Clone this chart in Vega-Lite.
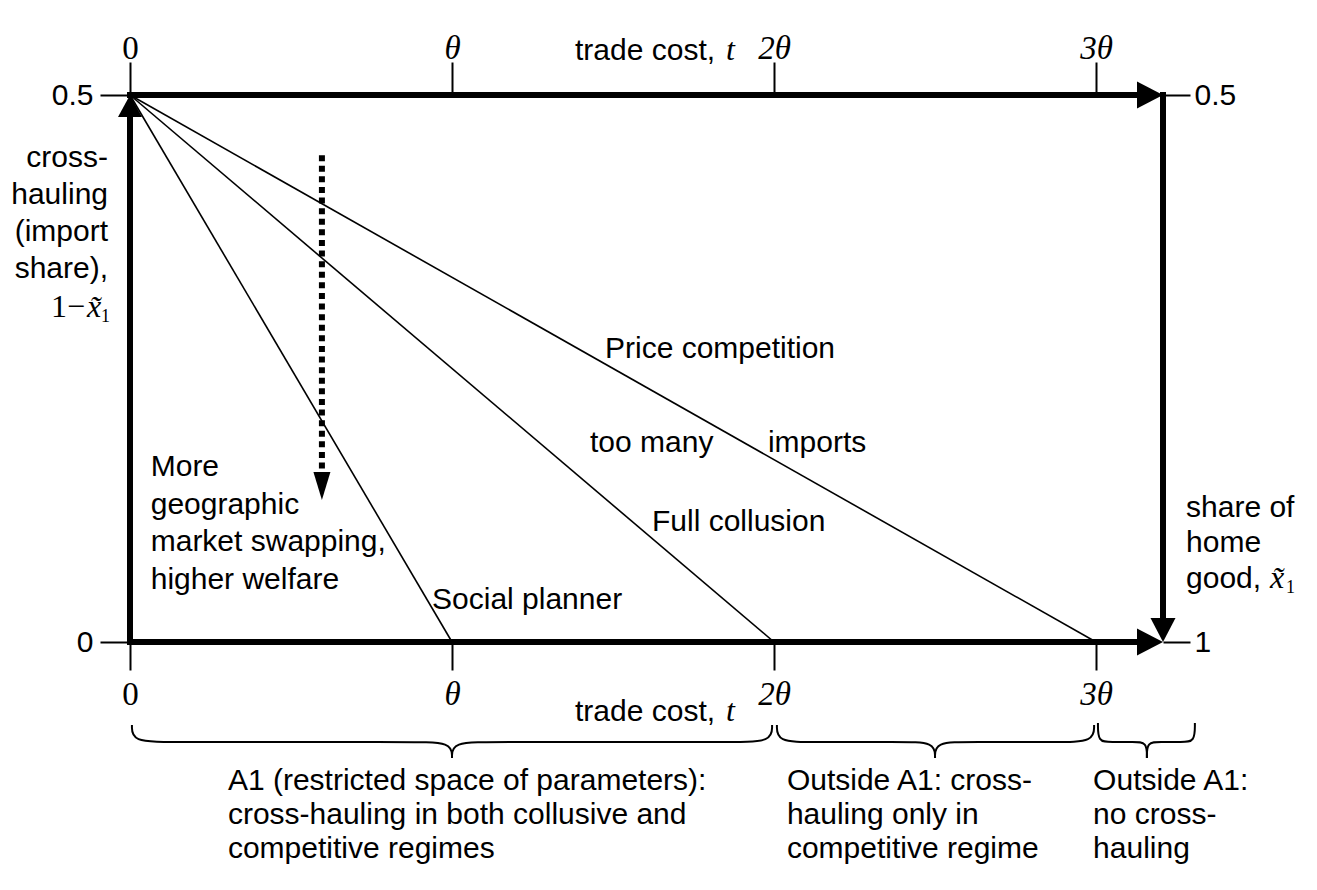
{
  "$schema": "https://vega.github.io/schema/vega-lite/v6.json",
  "width": 1033,
  "height": 547,
  "autosize": {"type": "none"},
  "padding": {"left": 130, "top": 95, "right": 154, "bottom": 248},
  "background": "white",
  "config": {"view": {"stroke": null}, "font": "Liberation Sans"},
  "datasets": {
    "curves": [
      {"regime": "Social planner", "x": 0, "y": 0.5, "x2": 1, "y2": 0},
      {"regime": "Full collusion", "x": 0, "y": 0.5, "x2": 2, "y2": 0},
      {"regime": "Price competition", "x": 0, "y": 0.5, "x2": 3, "y2": 0}
    ],
    "frame": [
      {"side": "left", "x": 0, "y": 0, "x2": 0, "y2": 0.485},
      {"side": "top", "x": 0, "y": 0.5, "x2": 3.17, "y2": 0.5},
      {"side": "right", "x": 3.208, "y": 0.5, "x2": 3.208, "y2": 0.02},
      {"side": "bottom", "x": 0, "y": 0, "x2": 3.17, "y2": 0}
    ],
    "dotted": [{"x": 0.596, "y": 0.445, "y2": 0.155}],
    "heads": [
      {"dir": "up", "x": 0, "y": 0.49},
      {"dir": "right", "x": 3.1677, "y": 0.5},
      {"dir": "right", "x": 3.1677, "y": 0},
      {"dir": "down", "x": 3.208, "y": 0.011},
      {"dir": "tip", "x": 0.596, "y": 0.1426}
    ],
    "braces": [
      {"seg": "A-L", "i": 0, "x": 0.006, "y": -0.0759},
      {"seg": "A-L", "i": 1, "x": 0.006, "y": -0.0914},
      {"seg": "A-L", "i": 2, "x": 0.13, "y": -0.0914},
      {"seg": "A-L", "i": 3, "x": 0.87, "y": -0.0914},
      {"seg": "A-L", "i": 4, "x": 1.0, "y": -0.0914},
      {"seg": "A-L", "i": 5, "x": 1.0, "y": -0.106},
      {"seg": "A-R", "i": 0, "x": 1.0, "y": -0.106},
      {"seg": "A-R", "i": 1, "x": 1.0, "y": -0.0914},
      {"seg": "A-R", "i": 2, "x": 1.13, "y": -0.0914},
      {"seg": "A-R", "i": 3, "x": 1.87, "y": -0.0914},
      {"seg": "A-R", "i": 4, "x": 1.994, "y": -0.0914},
      {"seg": "A-R", "i": 5, "x": 1.994, "y": -0.0759},
      {"seg": "B-L", "i": 0, "x": 2.009, "y": -0.0759},
      {"seg": "B-L", "i": 1, "x": 2.009, "y": -0.0914},
      {"seg": "B-L", "i": 2, "x": 2.12, "y": -0.0914},
      {"seg": "B-L", "i": 3, "x": 2.39, "y": -0.0914},
      {"seg": "B-L", "i": 4, "x": 2.5, "y": -0.0914},
      {"seg": "B-L", "i": 5, "x": 2.5, "y": -0.106},
      {"seg": "B-R", "i": 0, "x": 2.5, "y": -0.106},
      {"seg": "B-R", "i": 1, "x": 2.5, "y": -0.0914},
      {"seg": "B-R", "i": 2, "x": 2.61, "y": -0.0914},
      {"seg": "B-R", "i": 3, "x": 2.88, "y": -0.0914},
      {"seg": "B-R", "i": 4, "x": 2.994, "y": -0.0914},
      {"seg": "B-R", "i": 5, "x": 2.994, "y": -0.0759},
      {"seg": "C-L", "i": 0, "x": 3.006, "y": -0.074},
      {"seg": "C-L", "i": 1, "x": 3.006, "y": -0.0914},
      {"seg": "C-L", "i": 2, "x": 3.046, "y": -0.0914},
      {"seg": "C-L", "i": 3, "x": 3.118, "y": -0.0914},
      {"seg": "C-L", "i": 4, "x": 3.158, "y": -0.0914},
      {"seg": "C-L", "i": 5, "x": 3.158, "y": -0.106},
      {"seg": "C-R", "i": 0, "x": 3.158, "y": -0.106},
      {"seg": "C-R", "i": 1, "x": 3.158, "y": -0.0914},
      {"seg": "C-R", "i": 2, "x": 3.198, "y": -0.0914},
      {"seg": "C-R", "i": 3, "x": 3.267, "y": -0.0914},
      {"seg": "C-R", "i": 4, "x": 3.307, "y": -0.0914},
      {"seg": "C-R", "i": 5, "x": 3.307, "y": -0.074}
    ],
    "inplot": [
      {"label": "Price competition", "x": 1.475, "y": 0.2596},
      {"label": "too many", "x": 1.4286, "y": 0.1737},
      {"label": "imports", "x": 1.981, "y": 0.1737},
      {"label": "Full collusion", "x": 1.621, "y": 0.1015},
      {"label": "Social planner", "x": 0.938, "y": 0.03},
      {"label": "trade cost,", "x": 1.382, "y": 0.532},
      {"label": "trade cost,", "x": 1.382, "y": -0.0722}
    ],
    "swap": [{"label": "More\ngeographic\nmarket swapping,\nhigher welfare", "x": 0.0643, "y": 0.1517}],
    "homegood": [{"label": "share of\nhome\ngood,", "x": 3.2795, "y": 0.1143}],
    "crosshauling": [{"label": "cross-\nhauling\n(import\nshare),", "x": -0.0683, "y": 0.4342}],
    "regions": [
      {"label": "A1 (restricted space of parameters):\ncross-hauling in both collusive and\ncompetitive regimes", "x": 0.304, "y": -0.1353},
      {"label": "Outside A1: cross-\nhauling only in\ncompetitive regime", "x": 2.04, "y": -0.1353},
      {"label": "Outside A1:\nno cross-\nhauling", "x": 2.991, "y": -0.1353}
    ],
    "mathitalic": [
      {"label": "t", "x": 1.851, "y": 0.532},
      {"label": "t", "x": 1.851, "y": -0.0722},
      {"label": "x̃", "x": -0.1335, "y": 0.2971},
      {"label": "x̃", "x": 3.54, "y": 0.0494}
    ],
    "mathupright": [{"label": "1−", "x": -0.1398, "y": 0.2971}],
    "subscripts": [
      {"label": "1", "x": -0.0901, "y": 0.2925},
      {"label": "1", "x": 3.59, "y": 0.0448}
    ]
  },
  "encoding": {
    "x": {"field": "x", "type": "quantitative", "scale": {"domain": [0, 3.208], "nice": false, "zero": false}, "axis": null},
    "y": {"field": "y", "type": "quantitative", "scale": {"domain": [0, 0.5], "nice": false, "zero": false}, "axis": null}
  },
  "layer": [
    {
      "data": {"name": "curves"},
      "mark": {"type": "rule", "color": "black", "strokeWidth": 1.6},
      "encoding": {
        "x": {"field": "x", "type": "quantitative", "scale": {"domain": [0, 3.208], "nice": false, "zero": false},
          "axis": {"orient": "bottom", "values": [0, 1, 2, 3], "domain": false, "grid": false, "ticks": true, "tickSize": 28, "tickWidth": 2, "tickColor": "black",
            "labelExpr": "datum.value === 0 ? '0' : (datum.value === 1 ? 'θ' : datum.value + 'θ')",
            "labelFont": "Liberation Serif", "labelFontSize": 33,
            "labelFontStyle": {"condition": {"test": "datum.value === 0", "value": "normal"}, "value": "italic"},
            "labelColor": "black", "labelBaseline": "alphabetic", "labelPadding": 34, "labelFlush": false, "labelOverlap": false, "labelBound": false, "title": null}},
        "y": {"field": "y", "type": "quantitative", "scale": {"domain": [0, 0.5], "nice": false, "zero": false},
          "axis": {"orient": "left", "values": [0, 0.5], "domain": false, "grid": false, "ticks": true, "tickSize": 30, "tickWidth": 2, "tickColor": "black",
            "labelExpr": "datum.value === 0 ? '0' : '0.5'",
            "labelFont": "Liberation Sans", "labelFontSize": 30, "labelColor": "black", "labelBaseline": "middle", "labelPadding": 7, "labelFlush": false, "labelOverlap": false, "labelBound": false, "title": null}},
        "x2": {"field": "x2"},
        "y2": {"field": "y2"}
      }
    },
    {
      "data": {"name": "frame"},
      "mark": {"type": "rule", "color": "black", "strokeWidth": 6, "strokeCap": "square"},
      "encoding": {
        "x": {"field": "x", "type": "quantitative", "scale": {"domain": [0, 3.208], "nice": false, "zero": false},
          "axis": {"orient": "top", "values": [0, 1, 2, 3], "domain": false, "grid": false, "ticks": true, "tickSize": 33, "tickWidth": 2, "tickColor": "black",
            "labelExpr": "datum.value === 0 ? '0' : (datum.value === 1 ? 'θ' : datum.value + 'θ')",
            "labelFont": "Liberation Serif", "labelFontSize": 33,
            "labelFontStyle": {"condition": {"test": "datum.value === 0", "value": "normal"}, "value": "italic"},
            "labelColor": "black", "labelBaseline": "alphabetic", "labelPadding": 4, "labelFlush": false, "labelOverlap": false, "labelBound": false, "title": null}},
        "y": {"field": "y", "type": "quantitative", "scale": {"domain": [0, 0.5], "nice": false, "zero": false},
          "axis": {"orient": "right", "values": [0, 0.5], "domain": false, "grid": false, "ticks": true, "tickSize": 27, "tickWidth": 2, "tickColor": "black",
            "labelExpr": "datum.value === 0 ? '1' : '0.5'",
            "labelFont": "Liberation Sans", "labelFontSize": 30, "labelColor": "black", "labelBaseline": "middle", "labelPadding": 4, "labelFlush": false, "labelOverlap": false, "labelBound": false, "title": null}},
        "x2": {"field": "x2"},
        "y2": {"field": "y2"}
      }
    },
    {
      "data": {"name": "dotted"},
      "mark": {"type": "rule", "color": "black", "strokeWidth": 6, "strokeDash": [6, 4.6]},
      "encoding": {"y2": {"field": "y2"}}
    },
    {
      "data": {"name": "heads"},
      "mark": {"type": "point", "filled": true, "color": "black", "opacity": 1, "strokeWidth": 0, "size": 784},
      "encoding": {
        "shape": {"field": "dir", "type": "nominal", "legend": null,
          "scale": {"domain": ["up", "right", "down", "tip"],
            "range": ["M0,-0.786L0.857,0.786L-0.857,0.786Z", "M0.929,0L-0.929,-0.964L-0.929,0.964Z", "M0,0.857L-0.893,-0.857L0.893,-0.857Z", "M0,1L-0.607,-1L0.607,-1Z"]}}
      }
    },
    {
      "data": {"name": "braces"},
      "mark": {"type": "line", "color": "black", "strokeWidth": 2, "interpolate": "basis"},
      "encoding": {"detail": {"field": "seg"}, "order": {"field": "i", "type": "quantitative"}}
    },
    {
      "data": {"name": "inplot"},
      "mark": {"type": "text", "align": "left", "baseline": "alphabetic", "font": "Liberation Sans", "fontSize": 30, "color": "black"},
      "encoding": {"text": {"field": "label"}}
    },
    {
      "data": {"name": "swap"},
      "mark": {"type": "text", "align": "left", "baseline": "alphabetic", "font": "Liberation Sans", "fontSize": 30, "color": "black", "lineBreak": "\n", "lineHeight": 37.7},
      "encoding": {"text": {"field": "label"}}
    },
    {
      "data": {"name": "homegood"},
      "mark": {"type": "text", "align": "left", "baseline": "alphabetic", "font": "Liberation Sans", "fontSize": 30, "color": "black", "lineBreak": "\n", "lineHeight": 35.5},
      "encoding": {"text": {"field": "label"}}
    },
    {
      "data": {"name": "crosshauling"},
      "mark": {"type": "text", "align": "right", "baseline": "alphabetic", "font": "Liberation Sans", "fontSize": 30, "color": "black", "lineBreak": "\n", "lineHeight": 37},
      "encoding": {"text": {"field": "label"}}
    },
    {
      "data": {"name": "regions"},
      "mark": {"type": "text", "align": "left", "baseline": "alphabetic", "font": "Liberation Sans", "fontSize": 30, "color": "black", "lineBreak": "\n", "lineHeight": 34},
      "encoding": {"text": {"field": "label"}}
    },
    {
      "data": {"name": "mathitalic"},
      "mark": {"type": "text", "align": "left", "baseline": "alphabetic", "font": "Liberation Serif", "fontStyle": "italic", "fontSize": 32, "color": "black"},
      "encoding": {"text": {"field": "label"}}
    },
    {
      "data": {"name": "mathupright"},
      "mark": {"type": "text", "align": "right", "baseline": "alphabetic", "font": "Liberation Serif", "fontSize": 32, "color": "black"},
      "encoding": {"text": {"field": "label"}}
    },
    {
      "data": {"name": "subscripts"},
      "mark": {"type": "text", "align": "left", "baseline": "alphabetic", "font": "Liberation Serif", "fontSize": 18, "color": "black"},
      "encoding": {"text": {"field": "label"}}
    }
  ],
  "resolve": {"axis": {"x": "independent", "y": "independent"}}
}
